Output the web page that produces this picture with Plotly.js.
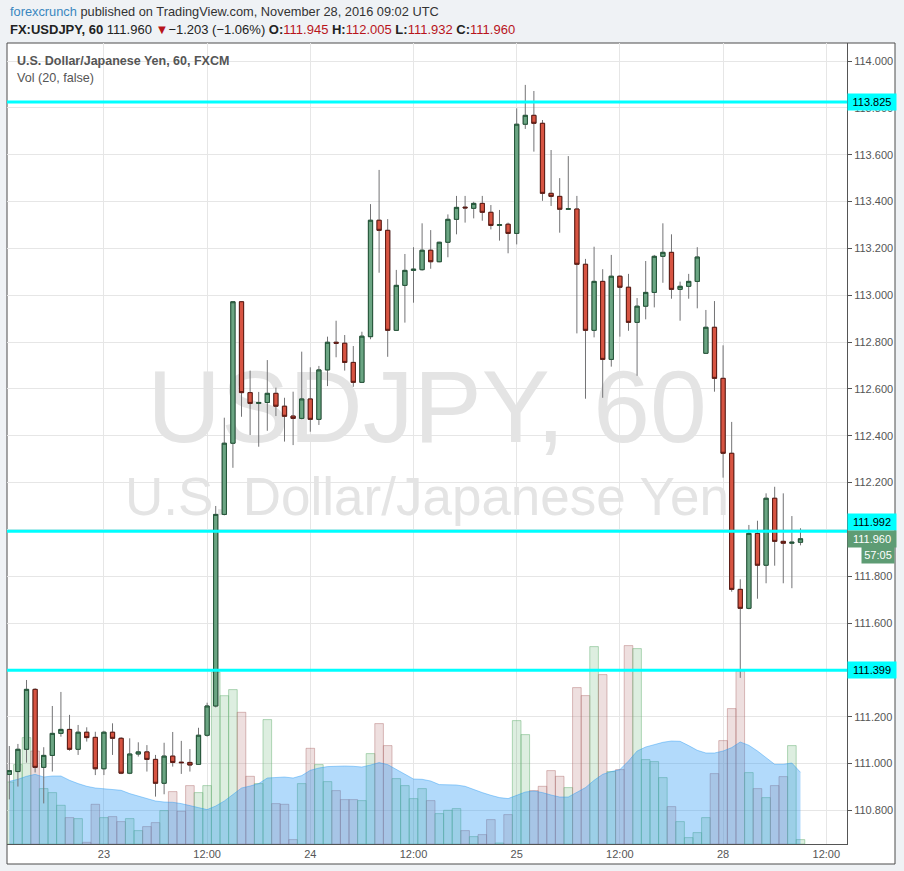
<!DOCTYPE html>
<html><head><meta charset="utf-8">
<script src="https://cdn.plot.ly/plotly-3.0.1.min.js"></script>
<style>html,body{margin:0;padding:0;background:#eff2f5;}#chart{width:904px;height:871px;}</style>
</head><body><div id="chart"></div>
<script>
// Hourly candles, FX:USDJPY (FXCM), 22 Nov 13:00 UTC -> 28 Nov 09:00 UTC (weekend removed)
const openP = [110.954,110.966,111.061,111.317,110.984,111.035,111.129,111.146,111.061,111.134,
111.112,110.978,111.134,111.108,110.959,111.041,111.050,111.018,110.916,111.032,
111.006,111.005,110.997,111.121,111.246,112.064,112.368,112.972,112.584,112.538,
112.542,112.581,112.526,112.484,112.474,112.557,112.470,112.681,112.799,112.795,
112.713,112.628,112.823,113.320,113.277,112.850,113.042,113.106,113.109,113.192,
113.143,113.226,113.324,113.376,113.371,113.392,113.354,113.298,113.303,113.264,
113.730,113.768,113.734,113.435,113.422,113.367,113.368,113.132,112.850,113.059,
112.726,113.081,113.034,112.884,112.953,113.012,113.166,113.183,113.025,113.038,
113.059,112.752,112.863,112.645,112.325,111.744,111.663,111.983,111.847,112.133,
111.949,111.941,111.945];
const highP = [111.075,111.084,111.357,111.322,111.070,111.246,111.306,111.208,111.165,111.155,
111.136,111.140,111.172,111.113,111.108,111.091,111.079,111.037,111.089,111.135,
111.097,111.062,111.153,111.260,112.100,112.477,112.975,112.975,112.678,112.587,
112.723,112.605,112.562,112.588,112.759,112.692,112.698,112.823,112.891,112.830,
112.783,112.844,113.389,113.535,113.325,113.108,113.176,113.205,113.307,113.278,
113.228,113.345,113.424,113.424,113.399,113.424,113.385,113.364,113.310,113.798,
113.898,113.872,113.748,113.620,113.500,113.594,113.424,113.155,113.207,113.111,
113.172,113.085,113.091,112.988,113.146,113.172,113.307,113.260,113.058,113.091,
113.205,112.937,112.975,112.786,112.459,111.787,112.019,112.037,112.154,112.182,
112.154,112.057,112.005];
const lowP = [110.847,110.902,111.004,110.962,110.830,110.966,111.115,111.055,111.037,111.094,
110.951,110.951,111.037,110.955,110.955,111.030,110.966,110.859,110.869,110.987,
110.956,110.966,110.995,111.115,111.240,112.060,112.263,112.481,112.403,112.353,
112.421,112.484,112.375,112.360,112.470,112.417,112.446,112.612,112.735,112.678,
112.609,112.625,112.812,113.096,112.737,112.849,112.883,112.968,113.105,113.113,
113.141,113.162,113.260,113.310,113.328,113.318,113.281,113.233,113.179,113.217,
113.710,113.613,113.403,113.381,113.267,113.365,112.837,112.558,112.820,112.562,
112.695,112.823,112.848,112.656,112.897,112.948,113.053,112.985,112.891,112.985,
112.944,112.750,112.588,112.221,111.734,111.366,111.659,111.704,111.770,111.845,
111.770,111.749,111.932];
const closeP = [110.970,111.061,111.317,110.984,111.035,111.129,111.146,111.061,111.134,111.111,
110.978,111.134,111.108,110.959,111.041,111.050,111.018,110.916,111.032,111.005,
111.004,110.994,111.121,111.246,112.064,112.368,112.972,112.584,112.538,112.542,
112.581,112.526,112.483,112.474,112.557,112.470,112.681,112.799,112.795,112.713,
112.628,112.825,113.320,113.277,112.850,113.042,113.106,113.111,113.192,113.143,
113.226,113.324,113.375,113.373,113.392,113.354,113.298,113.301,113.264,113.730,
113.768,113.734,113.435,113.422,113.367,113.369,113.132,112.850,113.059,112.726,
113.081,113.034,112.884,112.953,113.012,113.166,113.183,113.025,113.038,113.059,
113.163,112.863,112.645,112.325,111.744,111.663,111.983,111.847,112.133,111.949,
111.941,111.945,111.960];
const volume = [1240,1588,2128,1860,1108,1028,774,528,508,34,
794,528,548,448,508,268,348,428,668,1048,
654,1168,1028,1168,3440,2966,3088,2634,1354,1208,
2488,808,794,88,1208,1914,1588,1248,1068,888,
888,868,1808,2408,1968,1308,1168,908,1108,868,
608,674,708,268,148,188,488,20,588,2468,
2188,1068,1154,1468,1354,1128,3128,2968,3948,3388,
1448,1488,3968,3908,1688,1648,1328,748,448,128,
228,528,1408,2068,2708,3460,1428,1108,928,1168,
1348,1968,88];
const volumeMA20 = [1254,1294,1354,1394,1340,1360,1360,1274,1208,1154,
1120,1100,1094,1074,1008,954,908,860,840,834,
808,774,728,688,760,860,994,1120,1160,1208,
1320,1330,1340,1320,1368,1474,1520,1548,1560,1560,
1554,1540,1580,1628,1588,1488,1388,1300,1294,1260,
1188,1180,1180,1154,1088,1028,974,928,908,974,
1040,1060,1028,980,940,940,1040,1128,1274,1394,
1448,1488,1660,1860,1940,1994,2034,2060,2054,1968,
1874,1820,1820,1860,1928,2040,1974,1860,1728,1594,
1594,1620,1434];
const tickLabels = ['23','12:00','24','12:00','25','12:00','28','12:00'];
const tickBars = [11,23,35,47,59,71,83,95];
const priceTicks = [110.8,111.0,111.2,111.4,111.6,111.8,112.0,112.2,112.4,112.6,112.8,113.0,113.2,113.4,113.6,113.8,114.0];
const hiddenPriceTicks = [112.0]; // covered by the price-line labels
const levels = [113.825, 111.992, 111.399];
const prevDayClose = 113.163;
const countdown = '57:05';

const FONT = 'Liberation Sans, Arial, sans-serif';
const idx = openP.map((_, i) => i);
const last = openP.length - 1;
const isUp = idx.map(i => closeP[i] >= openP[i]);
const bodyHi = idx.map(i => Math.max(openP[i], closeP[i]));
const bodyLo = idx.map(i => Math.min(openP[i], closeP[i]));
const priceTickText = priceTicks.map(v => hiddenPriceTicks.includes(v) ? '' : v.toFixed(3));

const xRange = [-0.27, 97.41];
const yPriceRange = [110.6567, 114.0769];
const yVolRange = [0, 16020];

const traces = [
  { type: 'scatter', mode: 'text', x: [(xRange[0]+xRange[1])/2], y: [yVolRange[1]*0.5343],
    text: ['USDJPY, 60'], textfont: {family: FONT, size: 102, color: '#e4e4e4'},
    xaxis: 'x', yaxis: 'y', hoverinfo: 'skip', cliponaxis: false },
  { type: 'scatter', mode: 'text', x: [(xRange[0]+xRange[1])/2], y: [yVolRange[1]*0.427],
    text: ['U.S. Dollar/Japanese Yen'], textfont: {family: FONT, size: 53, color: '#e4e4e4'},
    xaxis: 'x', yaxis: 'y', hoverinfo: 'skip', cliponaxis: false },
  { type: 'bar', x: idx, y: volume, width: 1, xaxis: 'x', yaxis: 'y', hoverinfo: 'skip',
    marker: { color: isUp.map(u => u ? 'rgba(107,180,120,0.23)' : 'rgba(200,150,150,0.3)'),
              line: { width: 1, color: isUp.map(u => u ? 'rgba(107,180,120,0.5)' : 'rgba(170,100,100,0.42)') } } },
  { type: 'scatter', mode: 'lines', x: idx, y: volumeMA20, fill: 'tozeroy', xaxis: 'x', yaxis: 'y',
    fillcolor: 'rgba(33,150,243,0.35)', line: { color: 'rgba(33,150,243,0.4)', width: 1 }, hoverinfo: 'skip' },
  { type: 'candlestick', x: idx, open: openP, high: highP, low: lowP, close: closeP,
    xaxis: 'x', yaxis: 'y2', hoverinfo: 'skip',
    increasing: { line: { color: '#737375', width: 1 }, fillcolor: '#6ba583' },
    decreasing: { line: { color: '#737375', width: 1 }, fillcolor: '#d75442' } },
  { type: 'candlestick', x: idx, open: openP, high: bodyHi, low: bodyLo, close: closeP,
    xaxis: 'x', yaxis: 'y2', hoverinfo: 'skip',
    increasing: { line: { color: '#225437', width: 1 }, fillcolor: '#6ba583' },
    decreasing: { line: { color: '#5b1a13', width: 1 }, fillcolor: '#d75442' } }
];

const px2xp = px => (px - 7) / 840;
const px2yp = py => (844 - py) / 801;
const red = '#b8141b';
const chg = closeP[last] - prevDayClose;
const chgTxt = (chg < 0 ? '\u2212' : '+') + Math.abs(chg).toFixed(3) + ' (' + (chg < 0 ? '\u2212' : '+') + Math.abs(chg / prevDayClose * 100).toFixed(2) + '%)';
const line2 = '<b>FX:USDJPY, 60</b> ' + closeP[last].toFixed(3) + ' <span style="color:' + red + '">\u25BC</span>' + chgTxt +
  ' <b>O:</b><span style="color:' + red + '">' + openP[last].toFixed(3) + '</span>' +
  ' <b>H:</b><span style="color:' + red + '">' + highP[last].toFixed(3) + '</span>' +
  ' <b>L:</b><span style="color:' + red + '">' + lowP[last].toFixed(3) + '</span>' +
  ' <b>C:</b><span style="color:' + red + '">' + closeP[last].toFixed(3) + '</span>';

const annotations = [
  { xref: 'paper', yref: 'paper', x: px2xp(8), y: px2yp(12), xanchor: 'left', yanchor: 'middle', showarrow: false,
    text: '<span style="color:#3a87c0">forexcrunch</span> published on TradingView.com, November 28, 2016 09:02 UTC',
    font: { family: FONT, size: 12.8, color: '#333' } },
  { xref: 'paper', yref: 'paper', x: px2xp(8), y: px2yp(30), xanchor: 'left', yanchor: 'middle', showarrow: false,
    text: line2, font: { family: FONT, size: 13, color: '#222' } },
  { xref: 'paper', yref: 'paper', x: px2xp(15), y: px2yp(61), xanchor: 'left', yanchor: 'middle', showarrow: false,
    text: '<b>U.S. Dollar/Japanese Yen, 60, FXCM</b>', font: { family: FONT, size: 12.5, color: '#555' } },
  { xref: 'paper', yref: 'paper', x: px2xp(15), y: px2yp(78), xanchor: 'left', yanchor: 'middle', showarrow: false,
    text: 'Vol (20, false)', font: { family: FONT, size: 12.6, color: '#555' } }
];
const levelShift = [0, 9, 0];
levels.forEach((v, k) => annotations.push({ xref: 'paper', yref: 'y2', x: 1, y: v, yshift: levelShift[k], xanchor: 'left', yanchor: 'middle',
  showarrow: false, text: v.toFixed(3), bgcolor: '#00ffff', width: 44, height: 12, borderpad: 2,
  font: { family: FONT, size: 11, color: '#000' } }));
annotations.push({ xref: 'paper', yref: 'y2', x: 1, y: closeP[last], xanchor: 'left', yanchor: 'middle',
  showarrow: false, text: closeP[last].toFixed(3), bgcolor: '#5e9c74', width: 44, height: 12, borderpad: 2,
  font: { family: FONT, size: 11, color: '#fff' } });
annotations.push({ xref: 'paper', yref: 'y2', x: px2xp(895), y: closeP[last], yshift: -16, xanchor: 'right', yanchor: 'middle',
  showarrow: false, text: countdown, bgcolor: '#5e9c74', width: 28, height: 12, borderpad: 2,
  font: { family: FONT, size: 11, color: '#fff' } });

const shapes = [
  { type: 'rect', xref: 'paper', yref: 'paper', x0: 0, x1: px2xp(895), y0: px2yp(864), y1: 1,
    line: { color: '#4d4d4d', width: 1 }, fillcolor: '#ffffff', layer: 'below' }
];
levels.forEach(v => shapes.push({ type: 'line', xref: 'paper', yref: 'y2', x0: 0, x1: 1, y0: v, y1: v,
  line: { color: '#00ffff', width: 3 }, layer: 'above' }));

const layout = {
  width: 904, height: 871,
  margin: { l: 7, r: 57, t: 43, b: 27, pad: 0 },
  paper_bgcolor: '#eff2f5', plot_bgcolor: '#ffffff',
  showlegend: false, bargap: 0, hovermode: false, dragmode: false,
  xaxis: { range: xRange, tickmode: 'array', tickvals: tickBars, ticktext: tickLabels,
    rangeslider: { visible: false },
    showgrid: true, gridcolor: '#e6e6e6', gridwidth: 1, zeroline: false,
    showline: true, linecolor: '#555', linewidth: 1, ticks: '',
    tickfont: { family: FONT, size: 11, color: '#555' }, fixedrange: true },
  yaxis: { range: yVolRange, visible: false, showgrid: false, zeroline: false, fixedrange: true },
  yaxis2: { overlaying: 'y', side: 'right', range: yPriceRange, tickmode: 'array', tickvals: priceTicks,
    ticktext: priceTickText, showgrid: true, gridcolor: '#e6e6e6', gridwidth: 1, zeroline: false,
    showline: true, linecolor: '#555', linewidth: 1, ticks: 'outside', ticklen: 4, tickcolor: '#555',
    tickfont: { family: FONT, size: 11, color: '#555' }, fixedrange: true },
  annotations: annotations, shapes: shapes
};

Plotly.newPlot('chart', traces, layout, { staticPlot: true, displayModeBar: false });
</script>
</body></html>
